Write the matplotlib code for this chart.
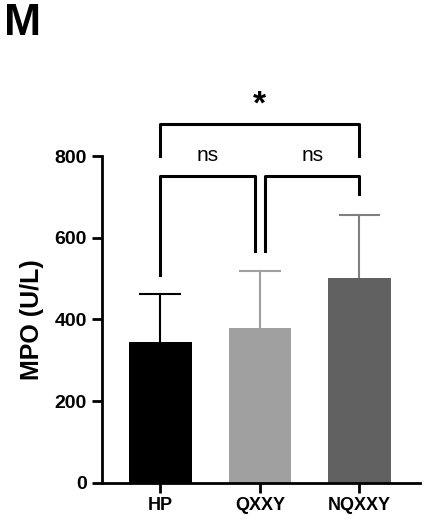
import matplotlib
matplotlib.use("Agg")
import matplotlib.pyplot as plt

plt.rcParams['font.family'] = ['Liberation Sans', 'DejaVu Sans']
plt.rcParams['font.weight'] = 'bold'

categories = ["HP", "QXXY", "NQXXY"]
means = [344, 378, 501]
sds = [117, 141, 155]
colors = ["#000000", "#a0a0a0", "#606060"]
err_colors = ["#000000", "#a0a0a0", "#808080"]
yticks = [0, 200, 400, 600, 800]

fig = plt.figure(figsize=(4.27, 5.25), dpi=100)
ax = fig.add_axes([0.238, 0.0806, 0.746, 0.6222])
x = list(range(len(categories)))
ax.bar(x, means, width=0.63, color=colors, zorder=2)
for xi, m, s, c in zip(x, means, sds, err_colors):
    ax.plot([xi, xi], [m, m + s], color=c, lw=1.5, zorder=1)
    ax.plot([xi - 0.2, xi + 0.2], [m + s, m + s], color=c, lw=1.5, zorder=1)
ax.set_xlim(-0.59, 2.61)
ax.set_ylim(0, 800)
ax.set_yticks(yticks)
ax.set_xticks(x)
ax.set_xticklabels(categories, fontsize=13, fontweight='bold')
ax.tick_params(axis='y', labelsize=14, width=2, length=7)
ax.tick_params(axis='x', width=2, length=7)
for l in ax.get_yticklabels():
    l.set_fontweight('bold')
ax.spines['top'].set_visible(False)
ax.spines['right'].set_visible(False)
ax.spines['left'].set_linewidth(2)
ax.spines['bottom'].set_linewidth(2)
ax.set_ylabel("MPO (U/L)", fontsize=18, fontweight='bold', labelpad=8)

def bracket(x1, x2, y, y1, y2, text, fs, ty):
    ax.plot([x1, x1, x2, x2], [y1, y, y, y2], color='black', lw=2.2, clip_on=False)
    ax.text((x1 + x2) / 2, ty, text, ha='center', va='bottom', fontsize=fs, fontweight='normal' if text == 'ns' else 'bold')

bracket(0, 0.95, 752, 509, 567, "ns", 15, 778)
bracket(1.05, 2, 752, 567, 707, "ns", 15, 778)
bracket(0, 2, 878, 800, 800, "*", 24, 888)

fig.text(0.01, 0.995, "M", fontsize=32, fontweight='bold', va='top', ha='left')
fig.savefig("out.png", dpi=100)
